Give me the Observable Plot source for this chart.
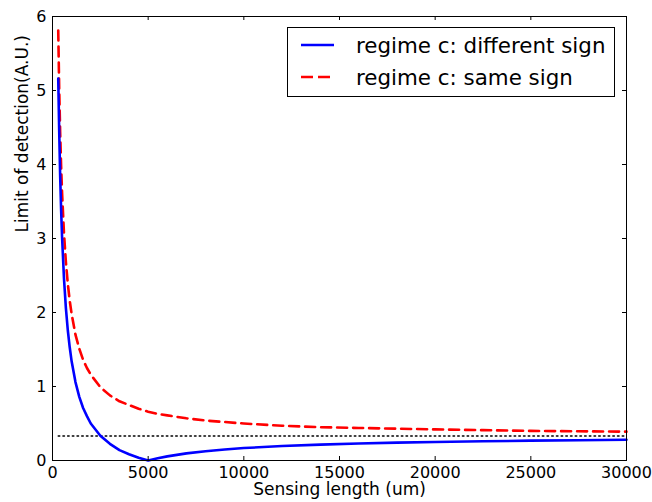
<!DOCTYPE html>
<html>
<head>
<meta charset="utf-8">
<script src="https://cdn.jsdelivr.net/npm/d3@7"></script>
<script src="https://cdn.jsdelivr.net/npm/@observablehq/plot@0.6"></script>
<style>
  html, body { margin: 0; padding: 0; background: #fff; }
  #wrap { position: relative; width: 652px; height: 502px; font-family: "DejaVu Sans", sans-serif; }
  #legend { position: absolute; left: 287px; top: 27px; width: 326px; height: 68px;
            border: 1px solid #000; background: #fff; }
  .row { position: absolute; left: 0; height: 26px; display: flex; align-items: center; }
  .row svg { margin-left: 13px; }
  .row span { margin-left: 22px; font-size: 21.4px; color: #000; white-space: nowrap; }
</style>
</head>
<body>
<div id="wrap"></div>
<script>
// Sensing length (um)
const lengthX = [300, 350, 400, 450, 500, 600, 700, 800, 900, 1000, 1200, 1400, 1600, 1800, 2000,
  2500, 3000, 3500, 4000, 4500, 5000, 5500, 6000, 7000, 8000, 9000, 10000, 12000, 14000, 16000,
  18000, 20000, 22500, 25000, 27500, 30000];
// regime c: different sign
const diffSign = [5.16, 4.45, 3.85, 3.39, 3.02, 2.46, 2.06, 1.76, 1.53, 1.34, 1.06, 0.86, 0.71, 0.60, 0.50,
  0.335, 0.225, 0.14, 0.085, 0.037, 0.0, 0.03, 0.056, 0.096, 0.126, 0.149, 0.168, 0.195, 0.215, 0.23,
  0.242, 0.251, 0.26, 0.268, 0.274, 0.28];
// regime c: same sign
const sameSign = [5.81, 5.03, 4.44, 3.98, 3.62, 3.07, 2.68, 2.39, 2.16, 1.98, 1.70, 1.51, 1.36, 1.25, 1.16,
  0.99, 0.88, 0.80, 0.75, 0.70, 0.66, 0.63, 0.61, 0.57, 0.54, 0.52, 0.50, 0.47, 0.45, 0.44,
  0.43, 0.42, 0.41, 0.40, 0.395, 0.39];
// horizontal dotted reference level
const refX = [300, 30000];
const refLevel = 0.33;

const xTicks = [0, 5000, 10000, 15000, 20000, 25000, 30000];
const yTicks = [0, 1, 2, 3, 4, 5, 6];
const xLabel = "Sensing length (um)";
const yLabel = "Limit of detection(A.U.)";
const seriesNames = ["regime c: different sign", "regime c: same sign"];
const seriesColors = ["#0000ff", "#ff0000"];

const rows = lengthX.map((x, i) => ({x, diff: diffSign[i], same: sameSign[i]}));
const refRows = refX.map(x => ({x, y: refLevel}));

const font = "DejaVu Sans";
const chart = Plot.plot({
  width: 652,
  height: 502,
  marginLeft: 52,
  marginRight: 26,
  marginTop: 16,
  marginBottom: 42,
  style: {fontFamily: font, fontSize: "16px", background: "#fff", color: "#000"},
  x: {domain: [0, 30000]},
  y: {domain: [0, 6]},
  marks: [
    Plot.line(refRows, {x: "x", y: "y", stroke: "#000", strokeWidth: 1.5, strokeDasharray: "1.5,3.2"}),
    Plot.line(rows, {x: "x", y: "same", stroke: seriesColors[1], strokeWidth: 2.6, strokeDasharray: "10,6"}),
    Plot.line(rows, {x: "x", y: "diff", stroke: seriesColors[0], strokeWidth: 2.6}),
    // inward ticks
    Plot.ruleX(xTicks, {x: d => d, y1: 0, y2: 0, insetTop: -4, stroke: "#000"}),
    Plot.ruleX(xTicks, {x: d => d, y1: 6, y2: 6, insetBottom: -4, stroke: "#000"}),
    Plot.ruleY(yTicks, {y: d => d, x1: 0, x2: 0, insetRight: -4, stroke: "#000"}),
    Plot.ruleY(yTicks, {y: d => d, x1: 30000, x2: 30000, insetLeft: -4, stroke: "#000"}),
    Plot.axisX({ticks: xTicks, tickSize: 0, tickPadding: 6, tickFormat: d => String(d), label: null, fontSize: 16}),
    Plot.axisY({ticks: yTicks, tickSize: 0, tickPadding: 6, tickFormat: d => String(d), label: null, fontSize: 16}),
    Plot.text([xLabel], {text: d => d, frameAnchor: "bottom", dy: 34, fontSize: 17, fill: "#000"}),
    Plot.text([yLabel], {text: d => d, frameAnchor: "left", dx: -30, dy: -6, rotate: -90, fontSize: 17, fill: "#000"}),
    Plot.frame({stroke: "#000", strokeWidth: 1})
  ]
});
const wrap = document.getElementById("wrap");
wrap.appendChild(chart);

// legend (drawn inside the axes, like matplotlib's upper-right legend)
const legend = document.createElement("div");
legend.id = "legend";
const rowTops = [4, 36];
seriesNames.forEach((name, i) => {
  const r = document.createElement("div");
  r.className = "row";
  r.style.top = rowTops[i] + "px";
  const dash = i === 1 ? 'stroke-dasharray="12,5"' : "";
  r.innerHTML = `<svg width="33" height="10"><line x1="0" y1="5" x2="33" y2="5" stroke="${seriesColors[i]}" stroke-width="2.6" ${dash}/></svg><span>${name}</span>`;
  legend.appendChild(r);
});
wrap.appendChild(legend);
</script>
</body>
</html>
